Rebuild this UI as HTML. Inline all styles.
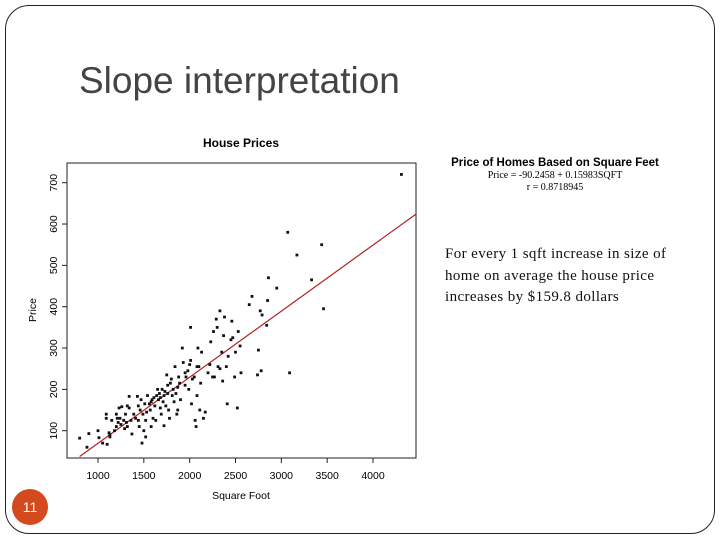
<!DOCTYPE html>
<html><head><meta charset="utf-8"><style>
body{margin:0;width:720px;height:540px;background:#fff;position:relative;overflow:hidden;font-family:"Liberation Sans",sans-serif}
#frame{position:absolute;left:5px;top:5px;width:708px;height:527px;border:1.3px solid #222;border-radius:24px}
#title{position:absolute;left:79px;top:60px;font-size:37px;color:#444}
#num{position:absolute;left:12px;top:489px;width:36px;height:36px;border-radius:50%;background:#d24a1e;color:#fff;font-size:14px;text-align:center;line-height:36px}
#eq{position:absolute;left:430px;top:157px;width:250px;text-align:center;font-size:11.5px}
#desc{position:absolute;left:445px;top:244px;width:252px;font-family:"Liberation Serif",serif;font-size:15px;letter-spacing:0.4px;line-height:21.5px;color:#111}
</style></head><body>
<div id="frame"></div>
<div id="title">Slope interpretation</div>
<div id="num">11</div>
<div id="eq"><div style="font-weight:bold;font-size:11.5px">Price of Homes Based on Square Feet</div><div style="font-family:'Liberation Serif',serif;font-size:10px;margin-top:1px">Price = -90.2458 + 0.15983SQFT</div><div style="font-family:'Liberation Serif',serif;font-size:10px;margin-top:1px">r = 0.8718945</div></div>
<div id="desc">For every 1 sqft increase in size of home on average the house price increases by $159.8 dollars</div>
<svg id="chart" width="720" height="540" style="position:absolute;left:0;top:0"></svg>
<script>
const xTicks=[1000,1500,2000,2500,3000,3500,4000];
const yTicks=[100,200,300,400,500,600,700];
const intercept=-90.2458, slope=0.15983;
const sqft=[800,880,900,1000,1010,1050,1100,1090,1090,1120,1130,1150,1180,1200,1200,1220,1230,1240,1250,1260,1280,1290,1300,1310,1320,1340,1340,1360,1370,1390,1410,1430,1440,1450,1460,1470,1480,1490,1500,1510,1520,1520,1530,1540,1560,1570,1580,1590,1600,1610,1620,1630,1640,1650,1660,1670,1680,1690,1700,1710,1720,1720,1730,1740,1750,1760,1770,1780,1790,1800,1810,1820,1830,1840,1850,1860,1870,1880,1890,1900,1920,1930,1950,1960,1980,1990,2000,2010,2020,2030,2050,2060,2070,2080,2090,2100,2110,2120,2130,2150,2170,2200,2220,2230,2250,2260,2270,2290,2300,2310,2330,2330,2350,2360,2370,2380,2400,2410,2420,2450,2460,2470,2490,2500,2520,2530,2550,2560,2650,2680,2740,2750,2770,2780,2790,2840,2850,2860,2950,3070,3090,3170,3330,3440,3460,4310,2010,2080,1950,1870,1760,1680,1580,1440,1320,1210,1130];
const price=[82,60,93,100,83,70,67,140,130,95,85,125,100,140,110,120,155,130,115,158,125,105,140,120,160,155,183,125,92,140,130,183,160,110,150,175,70,140,100,165,85,125,145,185,165,150,110,175,130,180,160,125,185,200,175,190,155,140,200,170,112,185,195,160,235,190,150,130,215,225,185,200,170,255,190,140,150,230,215,175,300,265,210,230,245,200,260,270,165,225,230,125,110,185,300,255,150,215,290,130,145,240,260,315,230,340,230,370,350,255,250,390,290,220,330,375,255,165,280,320,365,325,230,290,155,340,305,240,405,425,235,295,390,245,380,355,415,470,445,580,240,525,465,550,395,720,350,255,240,205,210,180,170,125,110,130,90];
const NS='http://www.w3.org/2000/svg';
const svg=document.getElementById('chart');
const L=67,R=416,T=163,B=458;
const sx=v=>98+(v-1000)*(275/3000);
const sy=v=>430.7-(v-100)*(248/600);
function mk(tag,attrs,parent){const e=document.createElementNS(NS,tag);for(const k in attrs)e.setAttribute(k,attrs[k]);(parent||svg).appendChild(e);return e;}
const box=mk('rect',{x:L,y:T,width:R-L,height:B-T,fill:'none',stroke:'#222','stroke-width':1});


const t=mk('text',{x:241,y:147,'text-anchor':'middle','font-size':12,'font-weight':'bold','font-family':'Liberation Sans,sans-serif'});t.textContent='House Prices';


xTicks.forEach(v=>{const x=sx(v);
 const l=mk('line',{x1:x,x2:x,y1:B,y2:B+5,stroke:'#222'});
 
 
 const tx=mk('text',{x:x,y:B+21,'text-anchor':'middle','font-size':10.5});tx.textContent=v;
 
 });
yTicks.forEach(v=>{const y=sy(v);
 const l=mk('line',{x1:L,x2:L-5,y1:y,y2:y,stroke:'#222'});
 
 
 const tx=mk('text',{x:L-10,y:y,'text-anchor':'middle','font-size':10.5,transform:`rotate(-90 ${L-10} ${y})`});tx.textContent=v;
 
 });
const xl=mk('text',{x:241,y:499,'text-anchor':'middle','font-size':10.5});xl.textContent='Square Foot';


const yl=mk('text',{x:36,y:310,'text-anchor':'middle','font-size':10.5,transform:'rotate(-90 36 310)'});yl.textContent='Price';


const clip=mk('clipPath',{id:'pc'});mk('rect',{x:L,y:T,width:R-L,height:B-T},clip);
const x0=800,x1=4600;
const rl=mk('line',{x1:sx(x0),y1:sy(intercept+slope*x0),x2:sx(x1),y2:sy(intercept+slope*x1),stroke:'#b22222','stroke-width':1.2,'clip-path':'url(#pc)'});


sqft.forEach((v,i)=>{const p=mk('rect',{x:sx(v)-1.4,y:sy(price[i])-1.4,width:2.8,height:2.8,fill:'#111'});
 
 });
</script>
</body></html>
